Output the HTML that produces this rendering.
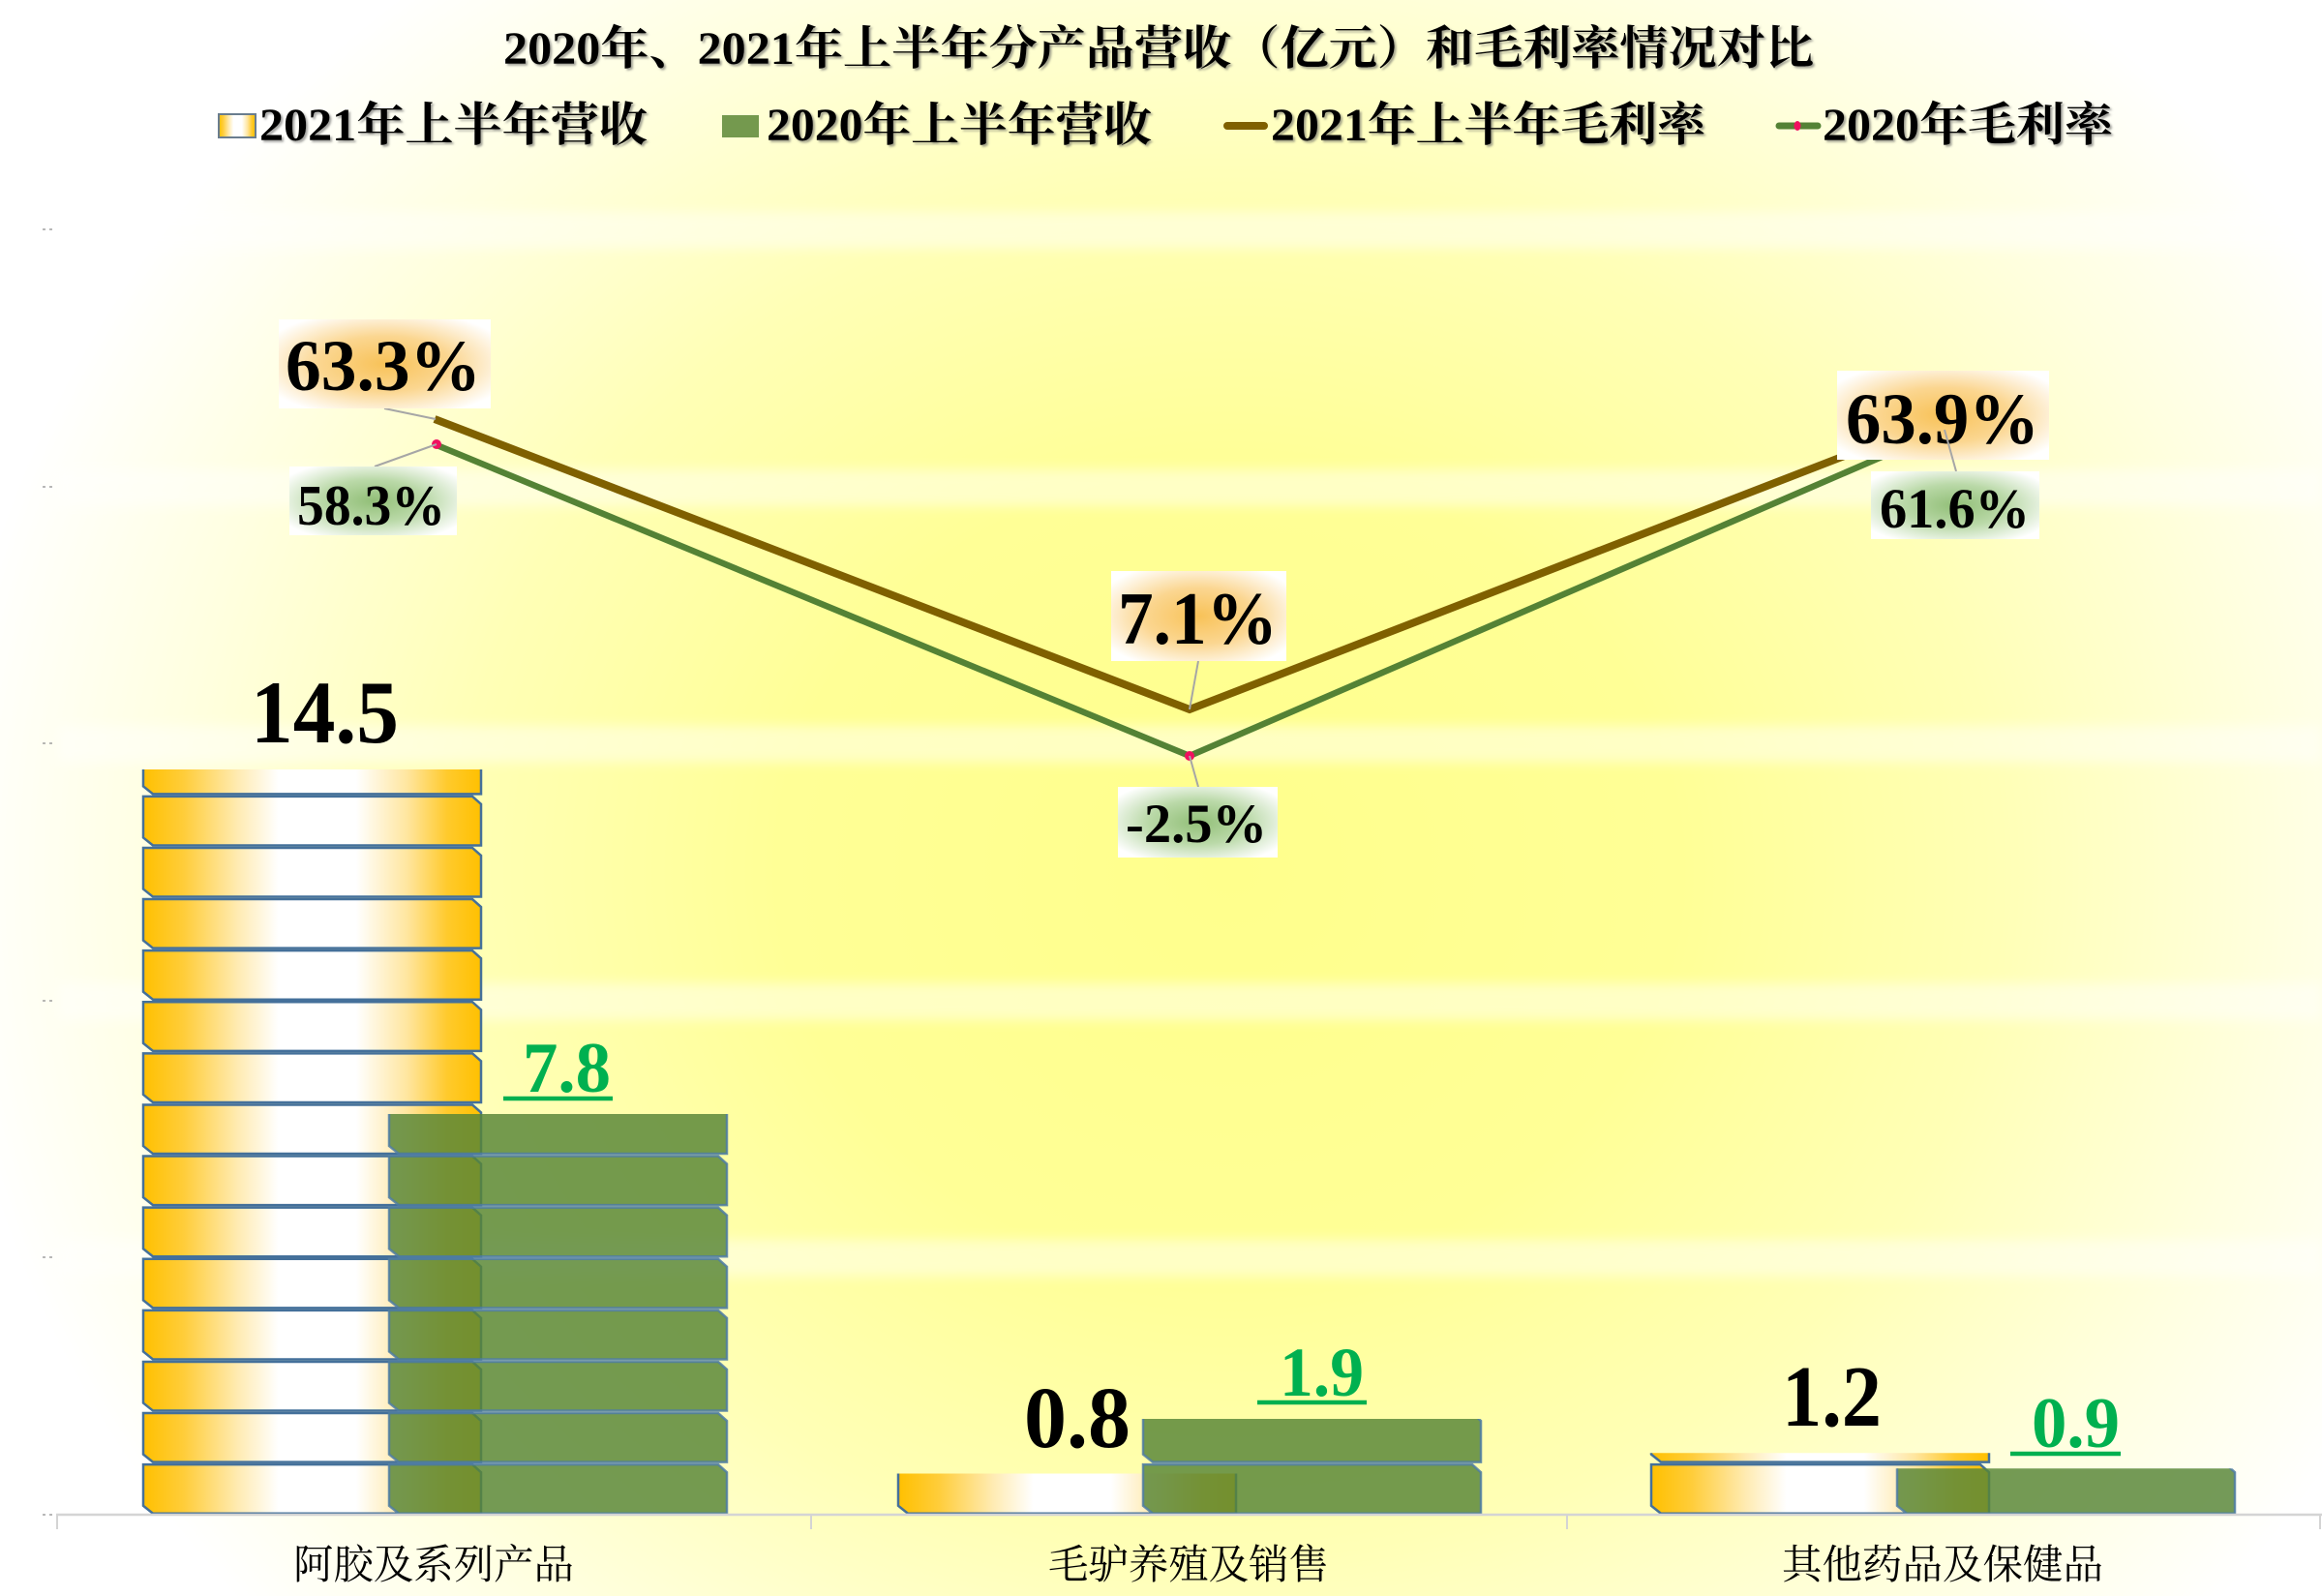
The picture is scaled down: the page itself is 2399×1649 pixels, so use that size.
<!DOCTYPE html>
<html><head><meta charset="utf-8">
<style>
html,body{margin:0;padding:0;background:#fff;}
svg{display:block;}
.t{font-family:"Liberation Serif","Noto Serif CJK SC",serif;font-weight:bold;fill:#000;}
.c{font-family:"Liberation Serif","Noto Serif CJK SC",serif;font-weight:normal;fill:#000;}
.n{font-family:"Liberation Serif",serif;font-weight:bold;}
</style></head>
<body>
<svg width="2399" height="1649" viewBox="0 0 2399 1649" xmlns="http://www.w3.org/2000/svg">
<defs>
  <radialGradient id="bg" gradientUnits="userSpaceOnUse" cx="0" cy="0" r="1" gradientTransform="translate(1270 900) scale(1330 1180)">
    <stop offset="0" stop-color="#ffff8c"/>
    <stop offset="0.35" stop-color="#ffff96"/>
    <stop offset="0.6" stop-color="#ffffb6"/>
    <stop offset="0.82" stop-color="#ffffe0"/>
    <stop offset="1" stop-color="#ffffff"/>
  </radialGradient>
  <linearGradient id="gold" x1="0" y1="0" x2="1" y2="0">
    <stop offset="0" stop-color="#ffc000"/>
    <stop offset="0.12" stop-color="#ffcd3a"/>
    <stop offset="0.28" stop-color="#ffebb2"/>
    <stop offset="0.4" stop-color="#ffffff"/>
    <stop offset="0.63" stop-color="#ffffff"/>
    <stop offset="0.78" stop-color="#ffe6a0"/>
    <stop offset="0.9" stop-color="#ffca2c"/>
    <stop offset="1" stop-color="#ffc000"/>
  </linearGradient>
  <radialGradient id="og" cx="0.5" cy="0.5" r="0.62">
    <stop offset="0" stop-color="#f8c258"/>
    <stop offset="0.5" stop-color="#fbd690"/>
    <stop offset="1" stop-color="#ffffff"/>
  </radialGradient>
  <radialGradient id="gg" cx="0.5" cy="0.5" r="0.62">
    <stop offset="0" stop-color="#92bf78"/>
    <stop offset="0.5" stop-color="#bad9a8"/>
    <stop offset="1" stop-color="#ffffff"/>
  </radialGradient>
  <filter id="blur" x="-5%" y="-100%" width="110%" height="300%">
    <feGaussianBlur stdDeviation="6"/>
  </filter>
  <filter id="sh" x="-5%" y="-30%" width="110%" height="160%">
    <feDropShadow dx="2" dy="2" stdDeviation="1" flood-color="#555" flood-opacity="0.55"/>
  </filter>
  <polygon id="pc" points="1,1.25 341,1.25 350,9.25 350,51.85 11,51.85 1,43.85"/>
  <clipPath id="c1g"><rect x="140" y="795" width="370" height="772"/></clipPath>
  <clipPath id="c1n"><rect x="394" y="1151" width="370" height="416"/></clipPath>
  <clipPath id="c2g"><rect x="920" y="1522.5" width="370" height="45"/></clipPath>
  <clipPath id="c2n"><rect x="1173" y="1466" width="370" height="101"/></clipPath>
  <clipPath id="c3g"><rect x="1698" y="1501.3" width="370" height="66"/></clipPath>
  <clipPath id="c3n"><rect x="1952" y="1517.2" width="370" height="50"/></clipPath>
</defs>

<rect x="0" y="0" width="2399" height="1649" fill="url(#bg)"/>

<g fill="#ffffff" opacity="0.45" filter="url(#blur)">
  <rect x="60" y="219" width="2339" height="38"/>
  <rect x="60" y="485" width="2339" height="38"/>
  <rect x="60" y="750" width="2339" height="38"/>
  <rect x="60" y="1016" width="2339" height="38"/>
  <rect x="60" y="1281" width="2339" height="38"/>
</g>

<g stroke="#a0a0a0" stroke-width="1.5" stroke-dasharray="3 4">
  <line x1="44" y1="237" x2="58" y2="237"/>
  <line x1="44" y1="503" x2="58" y2="503"/>
  <line x1="44" y1="768" x2="58" y2="768"/>
  <line x1="44" y1="1034" x2="58" y2="1034"/>
  <line x1="44" y1="1299" x2="58" y2="1299"/>
  <line x1="44" y1="1565" x2="58" y2="1565"/>
</g>

<text class="t" x="520" y="66" font-size="48" textLength="1354" lengthAdjust="spacingAndGlyphs" filter="url(#sh)">2020年、2021年上半年分产品营收（亿元）和毛利率情况对比</text>

<rect x="226" y="118" width="38" height="24" fill="url(#gold)" stroke="#6a7d8e" stroke-width="2"/>
<text class="t" x="268" y="145" font-size="48" textLength="401" lengthAdjust="spacingAndGlyphs" filter="url(#sh)">2021年上半年营收</text>
<rect x="746" y="119" width="38" height="23" fill="#74994e"/>
<text class="t" x="792" y="145" font-size="48" textLength="398" lengthAdjust="spacingAndGlyphs" filter="url(#sh)">2020年上半年营收</text>
<line x1="1268" y1="130" x2="1306" y2="130" stroke="#7f6000" stroke-width="8" stroke-linecap="round"/>
<text class="t" x="1313" y="145" font-size="48" textLength="449" lengthAdjust="spacingAndGlyphs" filter="url(#sh)">2021年上半年毛利率</text>
<line x1="1838" y1="130" x2="1878" y2="130" stroke="#548235" stroke-width="7" stroke-linecap="round"/>
<ellipse cx="1857" cy="130" rx="3.5" ry="5" fill="#f0105f"/>
<text class="t" x="1883" y="145" font-size="48" textLength="300" lengthAdjust="spacingAndGlyphs" filter="url(#sh)">2020年毛利率</text>

<g fill="url(#gold)" stroke="#44709a" stroke-width="2.5">
  <g clip-path="url(#c1g)">
    <use href="#pc" x="147" y="1511.9"/>
    <use href="#pc" x="147" y="1458.8"/>
    <use href="#pc" x="147" y="1405.7"/>
    <use href="#pc" x="147" y="1352.6"/>
    <use href="#pc" x="147" y="1299.5"/>
    <use href="#pc" x="147" y="1246.4"/>
    <use href="#pc" x="147" y="1193.3"/>
    <use href="#pc" x="147" y="1140.2"/>
    <use href="#pc" x="147" y="1087.1"/>
    <use href="#pc" x="147" y="1034"/>
    <use href="#pc" x="147" y="980.9"/>
    <use href="#pc" x="147" y="927.8"/>
    <use href="#pc" x="147" y="874.7"/>
    <use href="#pc" x="147" y="821.6"/>
    <use href="#pc" x="147" y="768.5"/>
  </g>
  <g clip-path="url(#c2g)">
    <use href="#pc" x="927" y="1511.9"/>
  </g>
  <g clip-path="url(#c3g)">
    <use href="#pc" x="1705" y="1511.9"/>
    <use href="#pc" x="1705" y="1458.8"/>
  </g>
</g>

<g fill="#588537" fill-opacity="0.83" stroke="#4f7ca3" stroke-opacity="0.85" stroke-width="2.5">
  <g clip-path="url(#c1n)">
    <use href="#pc" x="401" y="1511.9"/>
    <use href="#pc" x="401" y="1458.8"/>
    <use href="#pc" x="401" y="1405.7"/>
    <use href="#pc" x="401" y="1352.6"/>
    <use href="#pc" x="401" y="1299.5"/>
    <use href="#pc" x="401" y="1246.4"/>
    <use href="#pc" x="401" y="1193.3"/>
    <use href="#pc" x="401" y="1140.2"/>
  </g>
  <g clip-path="url(#c2n)">
    <use href="#pc" x="1180" y="1511.9"/>
    <use href="#pc" x="1180" y="1458.8"/>
  </g>
  <g clip-path="url(#c3n)">
    <use href="#pc" x="1959" y="1511.9"/>
  </g>
</g>

<line x1="58" y1="1565" x2="2399" y2="1565" stroke="#d4d4d4" stroke-width="2.5"/>
<g stroke="#d4d4d4" stroke-width="2">
  <line x1="59" y1="1565" x2="59" y2="1580"/>
  <line x1="838" y1="1565" x2="838" y2="1580"/>
  <line x1="1619" y1="1565" x2="1619" y2="1580"/>
  <line x1="2397" y1="1565" x2="2397" y2="1580"/>
</g>

<text class="c" x="448" y="1631" font-size="42" text-anchor="middle" textLength="290" lengthAdjust="spacingAndGlyphs">阿胶及系列产品</text>
<text class="c" x="1228" y="1631" font-size="42" text-anchor="middle" textLength="290" lengthAdjust="spacingAndGlyphs">毛驴养殖及销售</text>
<text class="c" x="2007" y="1631" font-size="42" text-anchor="middle" textLength="332" lengthAdjust="spacingAndGlyphs">其他药品及保健品</text>

<text class="n" x="259" y="767" font-size="92" fill="#000" textLength="153" lengthAdjust="spacingAndGlyphs">14.5</text>
<text class="n" x="540" y="1128" font-size="74" fill="#00b050" textLength="91" lengthAdjust="spacingAndGlyphs">7.8</text>
<line x1="520" y1="1135" x2="633" y2="1135" stroke="#00b050" stroke-width="4.5"/>
<text class="n" x="1058" y="1495" font-size="90" fill="#000" textLength="110" lengthAdjust="spacingAndGlyphs">0.8</text>
<text class="n" x="1322" y="1442" font-size="72" fill="#00b050" textLength="87" lengthAdjust="spacingAndGlyphs">1.9</text>
<line x1="1299" y1="1449" x2="1412" y2="1449" stroke="#00b050" stroke-width="4.5"/>
<text class="n" x="1841" y="1473" font-size="90" fill="#000" textLength="103" lengthAdjust="spacingAndGlyphs">1.2</text>
<text class="n" x="2099" y="1495" font-size="74" fill="#00b050" textLength="91" lengthAdjust="spacingAndGlyphs">0.9</text>
<line x1="2077" y1="1502" x2="2191" y2="1502" stroke="#00b050" stroke-width="4.5"/>

<polyline points="449,433 1229,733 2009,431" fill="none" stroke="#7f6000" stroke-width="8" stroke-linejoin="miter"/>
<polyline points="449,459 1229,781 2009,444" fill="none" stroke="#548235" stroke-width="6.5" stroke-linejoin="miter"/>
<circle cx="451" cy="459" r="5" fill="#f0105f"/>
<circle cx="1229" cy="781" r="5" fill="#f0105f"/>

<g stroke="#a6a6a6" stroke-width="2">
  <line x1="397" y1="422" x2="450" y2="433"/>
  <line x1="387" y1="482" x2="451" y2="459"/>
  <line x1="1238" y1="683" x2="1229" y2="733"/>
  <line x1="1229" y1="781" x2="1238" y2="813"/>
</g>

<rect x="288" y="330" width="219" height="92" fill="url(#og)"/>
<text class="n" x="295" y="403" font-size="75" fill="#000" textLength="202" lengthAdjust="spacingAndGlyphs">63.3%</text>

<rect x="299" y="482" width="173" height="71" fill="url(#gg)"/>
<text class="n" x="307" y="542" font-size="59" fill="#000" textLength="153" lengthAdjust="spacingAndGlyphs">58.3%</text>

<rect x="1148" y="590" width="181" height="93" fill="url(#og)"/>
<text class="n" x="1155" y="665" font-size="77" fill="#000" textLength="165" lengthAdjust="spacingAndGlyphs">7.1%</text>

<rect x="1155" y="813" width="165" height="73" fill="url(#gg)"/>
<text class="n" x="1163" y="870" font-size="57" fill="#000" textLength="146" lengthAdjust="spacingAndGlyphs">-2.5%</text>

<rect x="1898" y="383" width="219" height="92" fill="url(#og)"/>
<text class="n" x="1907" y="458" font-size="75" fill="#000" textLength="200" lengthAdjust="spacingAndGlyphs">63.9%</text>

<line x1="2009" y1="444" x2="2021" y2="487" stroke="#a6a6a6" stroke-width="2"/>

<rect x="1933" y="487" width="174" height="70" fill="url(#gg)"/>
<text class="n" x="1942" y="545" font-size="58" fill="#000" textLength="155" lengthAdjust="spacingAndGlyphs">61.6%</text>

</svg>
</body></html>
